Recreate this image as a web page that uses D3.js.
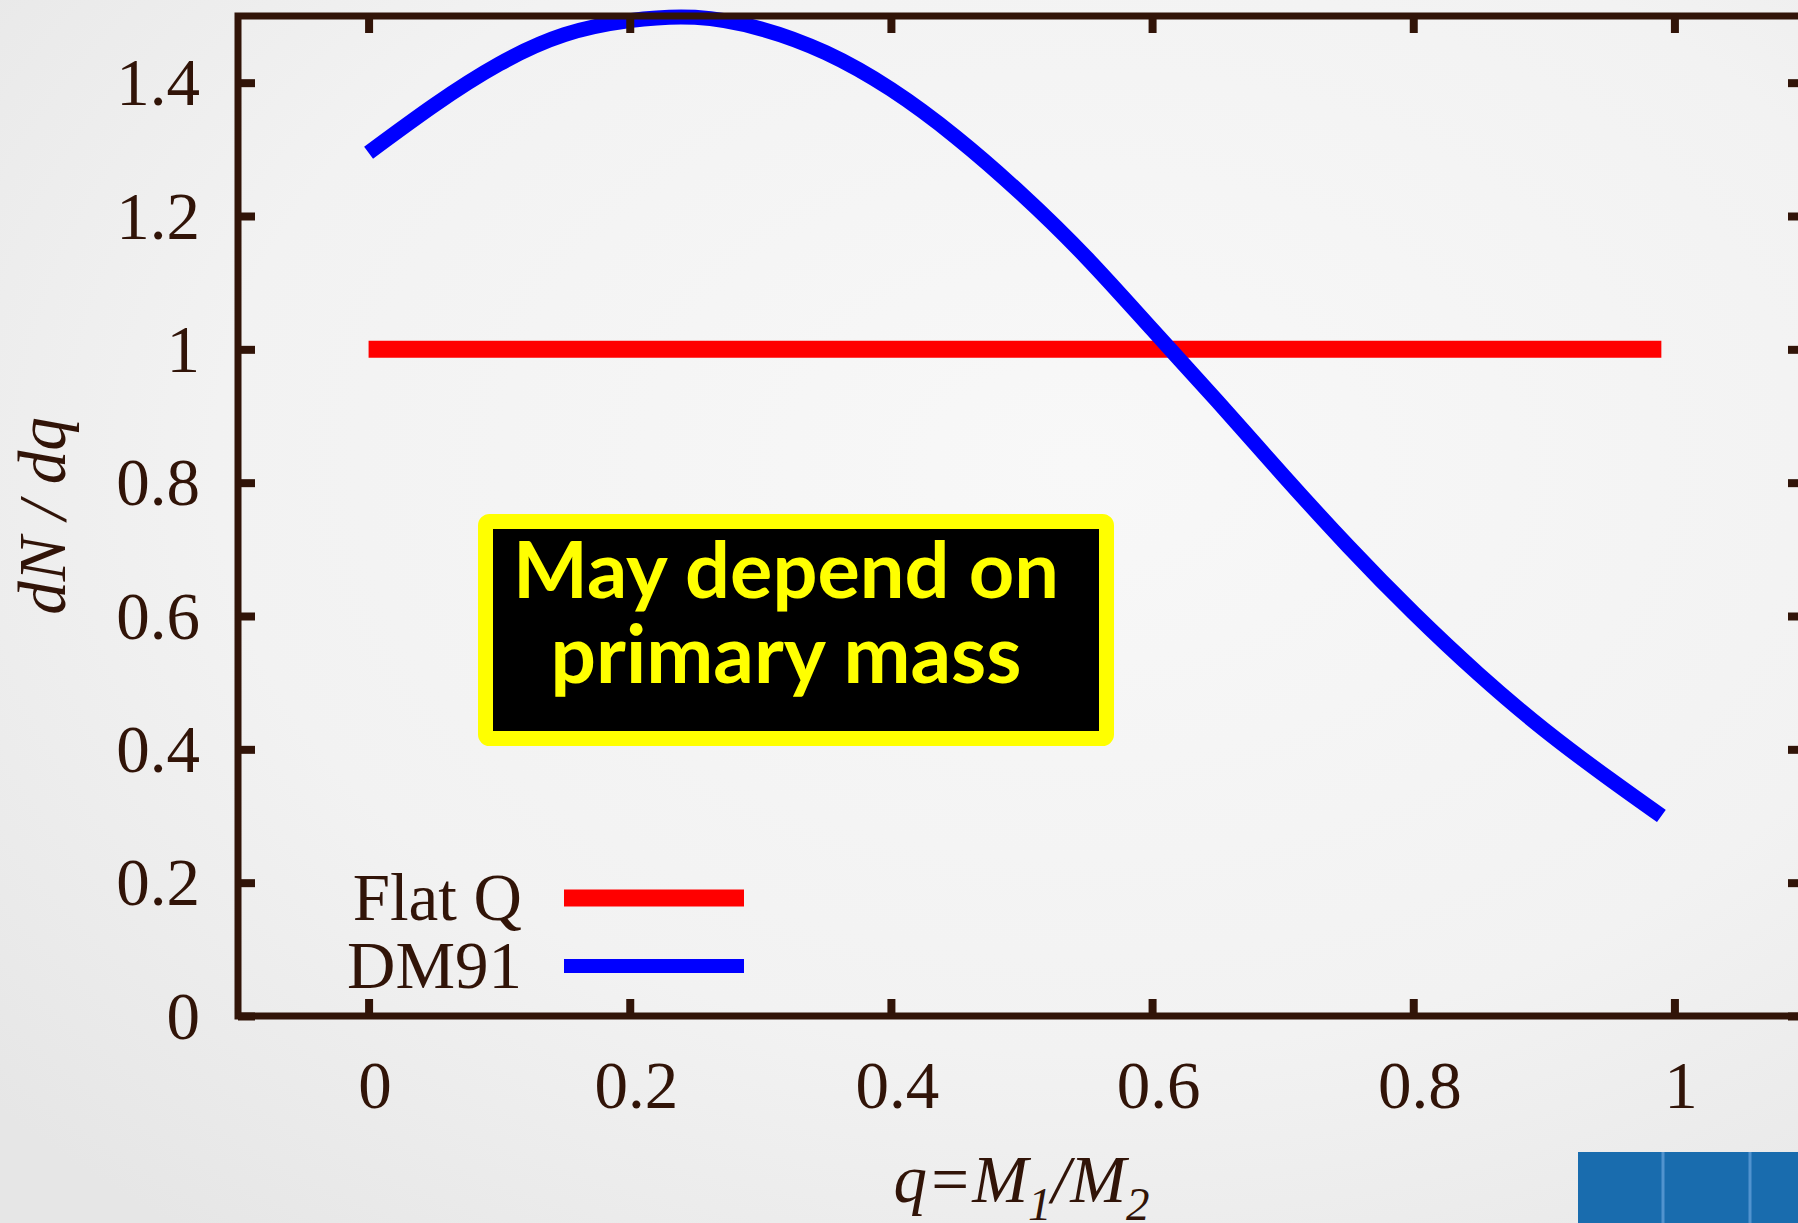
<!DOCTYPE html>
<html>
<head>
<meta charset="utf-8">
<script src="https://cdn.jsdelivr.net/npm/d3@7"></script>
<style>
html,body{margin:0;padding:0;overflow:hidden;background:#eeeeee;}
svg{display:block;}
</style>
</head>
<body>
<svg id="chart" width="1798" height="1223"></svg>
<script>
// ---- data ----
const qValues    = [0.00, 0.05, 0.10, 0.15, 0.20, 0.25, 0.30, 0.35, 0.40, 0.45, 0.50,
                    0.55, 0.60, 0.65, 0.70, 0.75, 0.80, 0.85, 0.90, 0.95, 0.99];
const dm91Values = [1.295, 1.366, 1.428, 1.472, 1.493, 1.498, 1.481, 1.445, 1.390, 1.318, 1.233,
                    1.137, 1.030, 0.922, 0.812, 0.705, 0.605, 0.513, 0.430, 0.356, 0.300];
const flatQq      = [0.00, 0.99];
const flatQValues = [1.0, 1.0];
const seriesNames = ["Flat Q", "DM91"];
const xTickValues = [0, 0.2, 0.4, 0.6, 0.8, 1];
const xTickLabels = ["0", "0.2", "0.4", "0.6", "0.8", "1"];
const yTickValues = [0, 0.2, 0.4, 0.6, 0.8, 1, 1.2, 1.4];
const yTickLabels = ["0", "0.2", "0.4", "0.6", "0.8", "1", "1.2", "1.4"];
const xDomain = [-0.1, 1.1];
const yDomain = [0, 1.5];
const annotationLines = ["May depend on", "primary mass"];

// ---- layout ----
const W = 1798, H = 1223;
const pL = 238, pR = 1805, pT = 16, pB = 1016;
const ink = "#311408";
const serif = "'Liberation Serif','Times New Roman',serif";

const svg = d3.select("#chart");

// background gradient (slide)
const defs = svg.append("defs");
const rg = defs.append("radialGradient").attr("id", "bg")
  .attr("cx", "60%").attr("cy", "38%").attr("r", "80%");
rg.append("stop").attr("offset", "0%").attr("stop-color", "#f8f8f8");
rg.append("stop").attr("offset", "60%").attr("stop-color", "#f2f2f2");
rg.append("stop").attr("offset", "100%").attr("stop-color", "#e6e6e6");
svg.append("rect").attr("width", W).attr("height", H).attr("fill", "url(#bg)");

// decorative slide element at the bottom right
const deco = svg.append("g");
deco.append("rect").attr("x", 1578).attr("y", 1152).attr("width", W - 1578).attr("height", H - 1152)
  .attr("fill", "#196cae");
[1663, 1750].forEach(xx => {
  deco.append("rect").attr("x", xx - 1.5).attr("y", 1152).attr("width", 3).attr("height", H - 1152)
    .attr("fill", "#5f9dd6").attr("opacity", 0.8);
});

const x = d3.scaleLinear().domain(xDomain).range([pL, pR]);
const y = d3.scaleLinear().domain(yDomain).range([pB, pT]);

// series (drawn first; the frame is drawn over them)
const flatData = flatQq.map((q, i) => [q, flatQValues[i]]);
const dmData = qValues.map((q, i) => [q, dm91Values[i]]);
svg.append("path").datum(flatData)
  .attr("d", d3.line().x(d => x(d[0])).y(d => y(d[1])))
  .attr("fill", "none").attr("stroke", "#ff0000").attr("stroke-width", 17);
svg.append("path").datum(dmData)
  .attr("d", d3.line().x(d => x(d[0])).y(d => y(d[1])).curve(d3.curveNatural))
  .attr("fill", "none").attr("stroke", "#0000ff").attr("stroke-width", 15);

// axes: inward ticks on all four sides
const tickLen = 17;
function styleAxis(g) {
  g.select(".domain").remove();
  g.selectAll(".tick line").attr("stroke", ink).attr("stroke-width", 8);
  g.selectAll(".tick text").attr("fill", ink).attr("font-family", serif).attr("font-size", 67);
}
svg.append("g").attr("transform", `translate(0,${pB})`)
  .call(d3.axisBottom(x).tickValues(xTickValues).tickSize(-tickLen).tickPadding(44)
    .tickFormat((d, i) => xTickLabels[i]))
  .call(styleAxis)
  .call(g => g.selectAll(".tick text").attr("dx", 6));
svg.append("g").attr("transform", `translate(0,${pT})`)
  .call(d3.axisTop(x).tickValues(xTickValues).tickSize(-tickLen).tickFormat(""))
  .call(styleAxis);
svg.append("g").attr("transform", `translate(${pL},0)`)
  .call(d3.axisLeft(y).tickValues(yTickValues).tickSize(-tickLen).tickPadding(38)
    .tickFormat((d, i) => yTickLabels[i]))
  .call(styleAxis)
  .call(g => g.selectAll(".tick text").attr("dy", "0.33em"));
svg.append("g").attr("transform", `translate(${pR},0)`)
  .call(d3.axisRight(y).tickValues(yTickValues).tickSize(-tickLen).tickFormat(""))
  .call(styleAxis);

// border
svg.append("rect").attr("x", pL).attr("y", pT)
  .attr("width", pR - pL).attr("height", pB - pT)
  .attr("fill", "none").attr("stroke", ink).attr("stroke-width", 7);

// axis titles
svg.append("text")
  .attr("transform", `translate(65,${(pT + pB) / 2}) rotate(-90)`)
  .attr("text-anchor", "middle").attr("fill", ink)
  .attr("font-family", serif).attr("font-style", "italic").attr("font-size", 67)
  .text("dN / dq");

const xt = svg.append("text")
  .attr("x", (pL + pR) / 2).attr("y", 1202)
  .attr("text-anchor", "middle").attr("fill", ink)
  .attr("font-family", serif).attr("font-style", "italic").attr("font-size", 67);
xt.append("tspan").text("q=M");
xt.append("tspan").attr("font-size", 47).attr("dy", 18).text("1");
xt.append("tspan").attr("dy", -18).text("/M");
xt.append("tspan").attr("font-size", 47).attr("dy", 18).text("2");

// legend
const legendItems = [
  {name: seriesNames[0], color: "#ff0000", w: 17, base: 920, ly: 898},
  {name: seriesNames[1], color: "#0000ff", w: 14, base: 988, ly: 966}
];
legendItems.forEach(l => {
  svg.append("text").attr("x", 522).attr("y", l.base).attr("text-anchor", "end")
    .attr("fill", ink).attr("font-family", serif).attr("font-size", 67).text(l.name);
  svg.append("line").attr("x1", 564).attr("x2", 744).attr("y1", l.ly).attr("y2", l.ly)
    .attr("stroke", l.color).attr("stroke-width", l.w);
});

// annotation box
svg.append("rect").attr("x", 485.5).attr("y", 521.5).attr("width", 621).attr("height", 217)
  .attr("rx", 4).attr("fill", "#000000").attr("stroke", "#ffff00").attr("stroke-width", 15);
const targetWidths = [546, 471];
const baselines = [598, 683];
annotationLines.forEach((t, i) => {
  const tx = svg.append("text").attr("x", 786).attr("y", baselines[i]).attr("text-anchor", "middle")
    .attr("fill", "#ffff00").attr("font-family", "Lato, 'Open Sans', sans-serif")
    .attr("font-weight", "bold").attr("font-size", 100).text(t);
  const w = tx.node().getComputedTextLength();
  tx.attr("font-size", 100 * targetWidths[i] / w);
});
</script>
</body>
</html>
